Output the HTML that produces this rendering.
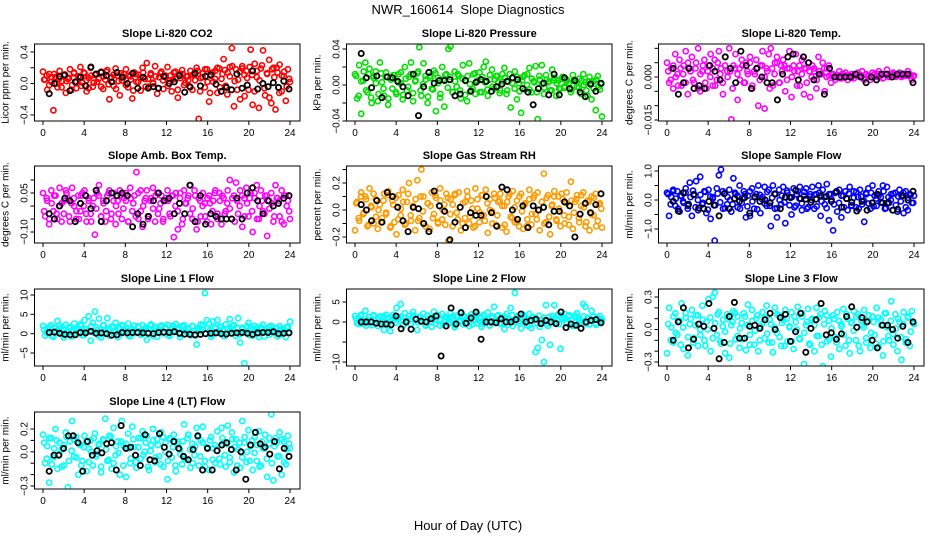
<!DOCTYPE html>
<html><head><meta charset="utf-8"><title>NWR_160614 Slope Diagnostics</title>
<style>
html,body{margin:0;padding:0;background:#fff;}
svg{display:block;font-family:"Liberation Sans",sans-serif;}
</style></head>
<body>
<svg id="chart" width="936" height="540" viewBox="0 0 936 540" xmlns="http://www.w3.org/2000/svg">
<rect x="0" y="0" width="936" height="540" fill="#fff"/>
<text x="468" y="14" text-anchor="middle" font-size="13">NWR_160614&#160; Slope Diagnostics</text>
<text x="468" y="530" text-anchor="middle" font-size="13">Hour of Day (UTC)</text>
</svg>
<script>
const xTicks=[0,4,8,12,16,20,24];
const co2Colored=[0.15,0.05,-0.08,0.12,0.02,-0.34,0.08,-0.05,0.16,0.03,0.10,-0.12,0.06,0.18,-0.02,0.14,-0.06,0.09,0.21,0.01,0.13,-0.10,0.07,0.20,-0.04,0.11,0.02,-0.53,0.15,-0.07,0.05,0.17,-0.20,0.08,-0.03,0.19,0.10,-0.15,0.04,0.12,0.18,-0.05,0.09,-0.19,0.14,0.02,0.11,-0.09,0.20,0.06,0.26,-0.04,0.13,0.01,0.22,-0.13,0.08,0.15,-0.07,0.10,0.21,0.03,-0.10,0.14,0.06,-0.18,0.12,0.17,-0.02,0.09,0.04,0.16,-0.08,0.11,0.20,-0.45,0.07,0.13,-0.05,0.18,-0.23,0.10,0.02,0.16,-0.12,0.19,0.06,0.31,-0.03,0.14,0.21,0.45,-0.29,0.18,0.05,-0.20,0.22,0.11,0.16,-0.08,0.43,-0.27,0.25,0.08,-0.31,0.19,0.42,-0.15,0.12,0.30,-0.25,0.20,-0.33,0.14,0.24,-0.10,0.09,-0.22,0.18,0.02];
const co2Core=[0.05,0.10,-0.02,0.08,0.12,0.00,0.06,-0.05,0.11,0.03,0.07,-0.08,0.13,0.02,0.09,-0.03,0.14,0.04,-0.06,0.10,0.01,0.12,0.06,-0.04,0.09,0.15,-0.01,0.07,0.11,-0.07,0.03,0.13,0.08,-0.02,0.10,0.05,-0.09,0.12,0.02,0.07,0.14,-0.04,0.06,0.11,0.00,0.09,-0.06,0.13,0.04,0.08,-0.03,0.10,0.05,0.15,-0.08,0.07,0.12,0.01,0.09,-0.05,0.11,0.04,0.16,-0.10,0.08,0.18,0.02,-0.12,0.14,0.06,0.20,-0.05,0.12,0.17,-0.14,0.09,0.22,0.03,-0.08,0.15,0.19,-0.16,0.07,0.21,0.11,-0.10,0.16,0.04,0.23,-0.06,0.13,-0.18,0.18,0.08,0.20,-0.12,0.10,0.15,-0.04,0.06];
const co2Black=[-0.13,0.00,0.09,0.11,-0.09,0.02,0.08,-0.03,0.21,0.12,0.14,0.10,0.02,0.14,0.08,0.00,0.13,-0.06,0.08,-0.06,-0.04,-0.06,0.09,0.00,0.02,0.10,-0.11,-0.04,0.13,-0.03,0.09,0.11,-0.01,-0.10,-0.05,-0.08,0.12,-0.06,-0.02,0.16,-0.07,0.00,-0.04,0.01,-0.05,0.03,-0.07];
const presColored=[0.012,-0.015,0.022,-0.032,0.005,0.025,-0.008,0.018,-0.020,0.010,0.015,-0.018,0.025,0.003,-0.012,0.014,-0.022,0.008,-0.004,0.011,-0.010,0.012,0.002,-0.016,0.020,-0.006,0.009,0.025,-0.018,0.004,0.013,0.042,-0.012,0.024,0.006,-0.020,0.010,-0.004,0.016,-0.029,0.008,-0.014,0.020,-0.024,0.012,0.040,0.043,-0.008,0.015,-0.002,0.010,-0.015,0.022,0.005,-0.018,0.024,-0.006,0.012,-0.010,0.004,0.014,-0.008,0.020,0.026,-0.012,0.006,0.017,-0.004,0.010,0.003,-0.006,0.012,0.019,-0.010,0.004,-0.025,0.008,0.015,-0.016,0.002,-0.031,0.009,-0.005,0.012,0.019,-0.008,0.004,0.021,-0.038,0.006,0.022,-0.010,0.011,0.003,-0.006,0.017,0.008,-0.012,0.005,-0.004,0.009,-0.003,0.006,0.002,-0.008,0.011,0.004,-0.002,0.007,-0.010,0.012,0.003,-0.012,0.009,-0.016,0.004,-0.028,0.010,-0.005,-0.035];
const presCore=[0.010,-0.012,0.004,0.015,-0.006,0.012,-0.014,0.008,0.002,-0.010,0.013,-0.004,0.009,-0.015,0.006,0.011,-0.008,0.003,0.014,-0.011,0.007,-0.002,0.012,-0.009,0.005,0.015,-0.006,0.001,0.010,-0.013,0.008,-0.005,0.013,0.002,-0.010,0.006,0.011,-0.003,0.009,-0.008,0.004,0.012,-0.006,0.007,-0.011,0.010,0.001,-0.004,0.013,0.005,-0.008,0.009,0.003,-0.005,0.011,-0.002,0.006,0.010,-0.009,0.004,0.008,-0.006,0.012,0.002,-0.004,0.009,-0.007,0.005,0.011,0.000,-0.005,0.007,0.003,-0.008,0.010,0.001,-0.003,0.006,0.004,-0.006,0.005,0.002,-0.004,0.007,-0.002,0.004,0.001,-0.005,0.006,0.003,-0.003,0.005,0.000,-0.006,0.004,0.002,-0.004,0.006,-0.002,0.001];
const presBlack=[0.035,0.008,-0.003,0.010,-0.014,0.009,0.008,0.004,-0.002,-0.012,0.012,-0.034,-0.002,0.014,0.002,0.005,0.005,0.006,-0.012,-0.010,0.005,-0.007,0.003,0.006,0.004,-0.007,-0.002,0.001,0.004,0.008,0.006,-0.004,-0.008,-0.022,-0.004,0.002,-0.011,0.012,-0.011,0.008,-0.004,0.005,-0.008,-0.013,0.001,-0.007,0.002];
const tempColored=[0.005,-0.002,0.003,-0.004,0.008,0.001,0.006,-0.003,0.004,0.009,-0.006,0.003,0.007,-0.002,0.005,0.010,-0.005,0.002,0.006,-0.004,0.004,0.008,-0.003,0.006,-0.001,0.009,0.003,-0.006,0.007,0.002,0.010,-0.0148,0.004,0.008,-0.008,0.003,0.006,-0.002,0.005,0.001,0.007,-0.004,0.002,0.006,-0.010,0.004,0.009,-0.011,0.003,0.008,0.010,-0.003,0.005,0.007,-0.002,0.004,0.006,-0.005,0.003,0.009,-0.007,0.004,0.008,0.002,-0.003,0.006,-0.006,0.003,0.005,-0.007,0.004,0.002,-0.004,0.007,0.001,0.005,-0.005,0.003,0.004,-0.002,0.001,-0.001,0.0005,0.002,-0.0005,0.001,0.0015,-0.001,0.0005,0.001,-0.0005,0.001,0.0015,0.0,0.002,-0.001,0.001,0.0005,-0.001,0.0015,0.001,0.0,0.002,0.0005,-0.0005,0.001,0.0025,0.0,0.001,0.0015,0.0005,0.001,0.0015,0.0,0.001,0.0005,0.002,0.001,-0.001,0.0005];
const tempCore=[0.002,-0.001,0.004,0.000,-0.003,0.003,0.001,-0.002,0.005,0.002,-0.001,0.003,-0.004,0.001,0.004,-0.002,0.002,0.000,0.003,-0.003,0.005,0.001,-0.002,0.004,0.000,0.002,-0.004,0.003,0.001,-0.001,0.004,-0.002,0.002,0.005,-0.003,0.001,0.003,-0.001,0.004,0.000,0.002,-0.004,0.003,0.001,0.005,-0.002,0.002,0.004,-0.001,0.003,0.000,0.002,-0.003,0.004,0.001,0.003,-0.002,0.002,0.000,0.003,-0.001,0.002,0.001,0.003,0.000,0.0005,0.0008,0.0,0.0006,-0.0004,0.0009,0.0003,0.0,0.0007,-0.0003,0.0005,0.001,0.0002,0.0006,-0.0002,0.0008,0.0004,0.0,0.0007,0.0003,0.001,0.0005,-0.0003,0.0008,0.0002,0.0006,0.0009,0.0001,0.0005,0.0007,0.0003,0.001,0.0004,0.0006,0.0002];
const tempBlack=[0.003,-0.006,-0.002,0.003,-0.004,-0.003,-0.004,0.004,0.002,-0.001,0.007,0.003,-0.002,0.009,0.004,-0.004,0.003,0.000,-0.002,-0.002,-0.008,0.001,0.007,0.008,-0.001,0.007,0.005,-0.001,0.001,-0.006,0.003,0.000,0.000,0.000,0.000,0.001,0.000,-0.002,0.000,-0.001,0.001,0.001,0.000,0.001,0.001,0.001,-0.002];
const ambColored=[0.05,-0.04,0.02,-0.07,0.06,-0.02,0.04,-0.05,0.07,0.01,-0.03,0.06,0.03,-0.06,0.07,0.00,-0.05,0.04,-0.02,0.05,0.06,-0.06,0.03,-0.03,0.00,-0.11,0.05,0.08,-0.04,0.02,-0.06,0.04,0.06,-0.03,0.05,-0.07,0.02,0.06,-0.05,0.03,0.05,-0.06,0.07,-0.02,0.04,0.13,-0.05,0.06,-0.08,0.02,0.06,-0.04,0.03,0.07,-0.06,0.05,-0.01,0.04,-0.05,0.02,0.06,-0.03,0.04,-0.12,0.05,-0.09,0.03,-0.07,0.06,0.01,0.04,0.08,-0.05,0.06,-0.09,0.03,-0.04,0.05,0.01,-0.06,0.04,-0.07,0.02,0.06,-0.03,0.05,-0.07,0.03,-0.02,0.06,0.10,-0.05,0.04,0.09,-0.03,0.06,-0.08,0.03,0.07,-0.04,0.05,-0.10,0.03,0.08,-0.05,0.06,-0.02,0.04,-0.115,0.02,0.05,-0.06,0.08,0.03,-0.04,0.06,-0.07,0.04,0.02,-0.05];
const ambCore=[-0.02,0.03,-0.05,0.01,0.04,-0.03,0.00,-0.06,0.02,0.05,-0.04,0.01,0.03,-0.02,-0.05,0.04,0.00,-0.03,0.02,-0.06,0.03,-0.01,0.04,-0.04,0.01,-0.02,0.05,-0.05,0.02,0.00,-0.03,0.04,-0.01,0.02,-0.06,0.03,0.01,-0.04,0.05,-0.02,0.00,0.03,-0.05,0.02,-0.01,0.04,-0.03,0.01,-0.06,0.03,0.02,-0.04,0.04,0.00,-0.02,0.05,-0.05,0.01,0.03,-0.03,-0.01,0.04,-0.06,0.02,0.00,-0.04,0.03,0.01,-0.02,0.05,-0.05,0.02,0.04,-0.03,0.01,-0.01,0.03,-0.06,0.02,0.00,0.04,-0.04,0.01,0.03,-0.02,0.05,-0.05,0.00,0.02,-0.03,0.04,-0.01,0.01,-0.04,0.03,0.02,-0.06,0.04,0.00,-0.02];
const ambBlack=[-0.03,-0.05,0.00,0.03,0.02,-0.06,0.01,0.04,-0.01,0.06,-0.06,0.02,0.05,0.04,0.05,0.04,-0.08,-0.03,-0.07,-0.04,0.02,0.05,0.02,0.03,-0.03,0.01,-0.03,0.08,-0.06,0.04,-0.07,-0.03,-0.04,-0.05,-0.05,-0.05,0.03,-0.05,0.05,0.07,0.02,-0.03,0.02,0.00,0.01,0.03,0.04];
const rhColored=[-0.15,0.06,-0.08,0.13,-0.03,0.10,-0.12,0.16,0.02,-0.10,0.08,-0.14,0.04,-0.06,0.12,-0.02,0.14,-0.13,0.07,-0.09,-0.18,0.11,-0.04,0.15,-0.11,0.06,0.20,-0.08,0.03,-0.15,0.22,-0.06,0.30,0.10,-0.12,0.05,-0.14,0.13,-0.03,0.09,-0.10,0.16,-0.07,0.04,0.12,-0.23,0.08,-0.12,0.11,-0.02,0.13,-0.15,0.05,-0.06,0.14,-0.10,0.07,-0.13,0.16,0.01,-0.09,0.11,-0.04,0.15,-0.17,0.08,-0.01,0.12,-0.11,0.06,0.12,-0.13,0.03,-0.16,0.10,-0.05,0.14,-0.09,0.07,-0.12,0.12,-0.14,0.05,-0.07,0.15,-0.11,0.09,-0.03,0.13,-0.15,0.06,0.27,-0.09,0.11,-0.18,0.04,0.14,-0.07,0.10,-0.12,0.08,-0.10,0.13,-0.05,0.21,-0.14,0.06,0.11,-0.09,0.03,0.13,-0.12,0.07,-0.15,0.10,-0.04,0.12,-0.08,0.05,-0.13];
const rhCore=[0.05,-0.06,0.10,-0.02,0.08,-0.11,0.03,0.12,-0.05,0.00,-0.09,0.07,-0.03,0.11,-0.12,0.04,0.09,-0.07,0.01,0.06,-0.10,0.12,-0.04,0.02,0.08,-0.08,0.10,-0.01,-0.12,0.05,0.03,-0.06,0.11,-0.09,0.07,0.00,-0.11,0.09,-0.03,0.04,0.12,-0.07,0.02,-0.10,0.06,0.10,-0.05,0.01,-0.12,0.08,-0.02,0.11,-0.08,0.05,0.00,-0.10,0.09,-0.04,0.07,0.03,-0.11,0.06,0.12,-0.06,0.02,-0.09,0.10,-0.01,0.04,-0.12,0.08,-0.03,0.11,-0.07,0.00,0.06,-0.10,0.09,-0.05,0.03,0.10,-0.08,0.01,0.12,-0.04,0.05,-0.11,0.07,-0.02,0.08,-0.06,0.11,0.02,-0.09,0.06,-0.03,0.09,-0.12,0.04,0.01];
const rhBlack=[0.04,0.00,-0.08,0.07,-0.09,0.13,0.10,0.02,-0.08,-0.16,0.02,0.01,-0.10,-0.16,0.14,0.03,-0.01,-0.22,-0.09,0.02,-0.13,-0.02,-0.04,-0.04,0.10,-0.02,-0.12,0.17,0.15,0.00,-0.07,0.03,-0.13,0.03,0.00,0.02,-0.11,-0.01,-0.01,0.06,0.03,-0.20,-0.03,0.05,-0.02,0.04,0.12];
const sampleColored=[0.25,-0.55,0.10,0.35,-0.20,0.30,-0.40,0.15,-0.10,0.40,-0.30,0.60,-0.55,0.20,0.65,-0.35,0.80,-0.15,0.30,-0.45,0.35,-0.65,0.10,-1.40,0.40,0.85,1.05,-0.30,0.25,-0.15,0.35,-0.40,0.75,0.20,-0.25,0.50,-0.10,0.30,-0.60,0.15,-0.55,0.40,-0.30,0.20,0.50,-0.45,0.10,0.45,-0.20,0.35,-0.90,0.50,-0.30,-0.60,0.35,-0.15,0.45,-0.80,0.25,0.10,-0.50,0.40,-0.20,0.30,0.45,-0.35,0.15,0.40,-0.25,0.20,0.45,-0.30,0.20,0.50,-0.55,0.35,-0.15,0.55,-0.70,0.20,-1.05,0.25,-0.40,0.35,-0.60,0.15,0.30,-0.35,0.45,-0.20,0.30,-0.25,0.10,0.35,-0.15,-0.75,0.25,0.40,-0.30,0.50,0.15,-0.20,0.30,0.10,0.50,-0.30,0.45,-0.10,0.20,-0.35,0.25,-0.40,0.35,0.15,-0.45,0.30,-0.35,0.20,-0.10,0.15];
const sampleCore=[0.20,-0.15,0.30,0.05,-0.30,0.15,-0.05,0.25,-0.20,0.10,0.32,-0.25,0.00,0.18,-0.10,0.28,-0.33,0.12,0.05,-0.18,0.22,-0.08,0.30,-0.28,0.10,0.00,-0.15,0.25,0.15,-0.30,0.05,0.20,-0.22,0.30,-0.05,0.12,-0.32,0.18,0.02,-0.12,0.28,-0.20,0.08,0.22,-0.28,0.00,0.15,-0.08,0.32,-0.18,0.10,-0.25,0.20,0.05,-0.12,0.28,-0.30,0.12,0.00,0.18,-0.22,0.25,-0.05,0.10,-0.28,0.20,0.02,-0.15,0.30,-0.10,0.15,-0.25,0.05,0.22,-0.18,0.08,0.28,-0.30,0.12,-0.02,0.20,-0.12,0.25,-0.22,0.05,0.15,-0.08,0.30,-0.28,0.10,0.00,0.22,-0.18,0.12,-0.05,0.25,-0.25,0.08,0.18,-0.10];
const sampleBlack=[-0.05,-0.38,0.25,-0.15,0.18,-0.28,-0.30,-0.05,-0.18,-0.55,0.22,-0.30,0.05,-0.05,0.08,-0.45,0.10,-0.05,0.00,-0.10,0.20,-0.30,0.10,0.08,0.33,0.05,0.03,-0.08,0.03,0.15,0.12,-0.05,0.28,-0.25,0.05,-0.08,-0.38,-0.05,-0.35,-0.10,0.20,-0.10,-0.10,-0.35,-0.32,0.15,0.00,0.30];
const line1Colored=[2.0,-0.5,1.2,0.3,2.2,-0.8,1.5,3.3,0.5,1.8,-1.0,2.3,0.8,1.5,-0.6,2.6,1.0,0.2,2.4,-0.4,3.5,1.2,4.5,-1.8,2.8,5.7,0.9,3.9,-1.0,2.1,1.0,4.0,-0.5,1.8,0.6,2.8,-0.9,1.4,2.2,0.3,1.5,2.6,-0.7,1.0,2.0,0.4,1.7,-0.3,2.2,1.1,-1.6,1.3,2.4,0.6,1.8,-0.8,1.1,2.1,0.3,1.6,2.3,-0.6,1.4,0.8,2.5,1.0,-0.9,1.9,2.2,0.5,1.2,-0.4,2.0,0.7,-2.8,1.5,2.4,0.9,10.5,3.5,2.6,-0.8,3.2,1.4,3.5,0.6,1.8,-0.5,2.4,1.1,3.8,1.2,2.2,-0.6,4.0,-2.3,1.5,-7.7,0.8,2.8,1.7,-0.5,2.0,1.0,-0.9,1.6,2.3,0.4,1.3,-0.3,2.0,0.8,1.5,-0.7,1.9,0.5,1.2,-0.9,1.7,3.1];
const line1Core=[1.0,0.2,1.8,-0.5,1.4,0.6,2.1,-0.2,1.1,0.4,1.7,-0.7,0.9,1.5,0.1,2.0,-0.4,1.2,0.7,1.9,0.3,1.6,-0.6,1.0,2.2,0.5,1.3,-0.3,1.8,0.8,1.4,0.0,2.0,0.6,-0.5,1.5,1.1,0.2,1.9,-0.2,0.9,1.6,0.4,2.1,-0.6,1.2,0.7,1.8,0.1,1.3,-0.4,1.0,2.0,0.5,1.5,-0.1,1.7,0.8,1.2,0.3,1.9,-0.5,1.1,0.6,2.2,0.0,1.4,0.9,-0.3,1.6,0.4,1.8,1.0,-0.6,1.3,0.7,2.0,0.2,1.5,-0.2,1.1,0.5,1.9,-0.4,1.2,0.8,1.6,0.1,1.4,-0.7,0.6,1.8,1.0,0.3,1.5,-0.3,1.2,0.9,1.7,0.4];
const line1Black=[0.3,0.4,0.1,-0.2,-0.3,-0.3,0.3,0.2,0.6,0.1,0.2,0.0,-0.4,-0.3,0.3,0.2,0.3,0.3,0.2,0.1,0.0,0.3,0.4,0.3,0.5,0.1,-0.1,-0.2,-0.3,-0.2,0.0,0.1,0.2,0.0,-0.1,0.1,0.2,0.3,0.1,-0.2,0.2,0.3,0.3,0.5,0.0,0.1,0.2];
const line2Colored=[1.5,-0.3,0.8,1.8,-0.5,2.8,0.4,1.2,-0.8,1.5,0.6,-1.0,1.4,0.2,-2.0,1.8,-0.6,-2.3,1.1,0.5,3.5,1.2,4.5,-0.8,2.2,0.4,1.5,-0.5,2.5,0.9,-2.0,1.3,0.2,2.1,-0.7,1.6,0.8,-1.2,2.6,0.5,1.4,-0.9,2.0,0.3,1.1,-0.4,2.3,0.7,-1.3,1.6,0.2,2.5,-0.6,1.3,0.8,-1.0,1.9,0.4,2.2,-0.3,1.0,-1.2,1.8,0.5,2.4,-0.8,1.4,3.8,0.3,1.7,-0.5,1.2,-1.8,2.0,0.6,3.5,-1.0,7.3,1.4,0.2,-1.6,1.8,0.7,-0.9,2.0,-1.5,1.2,-7.5,-6.5,-1.2,-4.5,-10.0,4.2,-1.0,-5.7,1.5,4.2,-0.5,1.9,-6.7,0.8,2.0,-0.4,1.3,0.5,-1.0,1.6,2.2,0.3,-1.5,4.5,3.8,1.0,-0.6,2.8,1.4,-0.3,0.9,1.5,0.6];
const line2Core=[0.8,-0.5,1.5,0.2,-0.9,1.2,0.5,1.7,-0.3,0.9,0.1,1.4,-0.7,1.0,0.4,1.8,-0.2,0.7,1.3,-0.8,1.1,0.3,-0.5,1.6,0.6,-0.1,1.2,0.9,-0.9,1.5,0.2,1.0,-0.4,1.7,0.5,-0.6,1.3,0.8,0.0,1.4,-0.8,1.1,0.4,1.6,-0.3,0.9,1.2,-0.6,0.6,1.8,0.1,-0.5,1.4,0.7,-0.9,1.0,0.3,1.5,-0.2,0.8,1.3,-0.7,0.5,1.7,0.0,1.1,-0.4,0.9,1.4,0.2,-0.8,1.2,0.6,-0.3,1.6,0.4,1.0,-0.6,1.3,0.7,0.2,1.5,-0.5,0.9,1.1,-0.2,1.7,0.5,-0.9,1.2,0.8,0.0,1.4,-0.4,1.0,0.6,1.3,-0.7,0.9,0.3];
const line2Black=[0.0,0.0,0.0,-0.3,-0.5,-0.5,-0.7,1.5,-1.7,0.0,-1.8,0.7,0.2,0.0,0.8,1.5,-8.5,-1.0,3.5,-0.5,2.3,-0.3,1.0,2.5,-4.3,0.0,0.0,-0.2,0.8,0.0,0.0,0.6,2.0,0.0,0.4,0.7,-0.4,0.4,0.0,-0.4,2.5,-1.4,-0.5,-0.8,-1.6,0.0,0.4,0.6,-0.2];
const line3Colored=[-0.22,0.20,0.02,-0.12,0.15,-0.05,0.08,0.24,-0.18,0.11,-0.24,0.05,0.18,-0.08,0.13,-0.15,0.00,0.22,-0.10,0.07,0.28,-0.20,0.30,0.34,-0.05,0.16,-0.13,0.09,-0.22,0.14,-0.26,0.04,0.17,-0.09,0.12,-0.17,0.06,0.15,-0.19,0.23,-0.05,0.18,-0.14,0.10,-0.20,0.03,0.16,-0.08,0.22,-0.12,0.05,-0.21,0.20,-0.03,0.13,-0.15,0.09,0.18,-0.11,0.02,0.16,-0.18,0.07,0.21,-0.09,0.12,-0.32,0.04,0.19,-0.14,0.10,-0.20,0.20,-0.06,0.14,-0.34,0.17,-0.11,0.08,-0.25,0.13,-0.07,0.16,-0.18,0.05,0.19,-0.15,0.10,-0.22,0.07,0.17,-0.10,0.14,-0.20,0.04,0.18,-0.12,0.08,-0.17,0.12,-0.05,0.20,-0.16,0.09,-0.24,0.15,0.02,-0.10,0.26,-0.04,0.14,-0.20,0.07,-0.28,0.16,-0.09,0.11,-0.15,0.17,0.05];
const line3Core=[0.05,-0.10,0.12,-0.03,0.08,-0.14,0.02,0.15,-0.07,0.10,-0.12,0.04,0.13,-0.05,0.09,-0.15,0.00,0.11,-0.08,0.06,0.14,-0.11,0.03,-0.02,0.10,-0.13,0.07,0.15,-0.06,0.01,-0.09,0.12,0.04,-0.14,0.08,-0.01,0.13,-0.10,0.05,0.11,-0.04,0.09,-0.12,0.02,0.14,-0.07,0.06,-0.15,0.10,0.03,-0.11,0.12,0.00,-0.08,0.15,-0.03,0.07,-0.13,0.09,0.04,-0.06,0.11,-0.14,0.05,0.13,-0.09,0.01,0.10,-0.12,0.08,0.03,-0.05,0.14,-0.10,0.06,-0.01,0.12,-0.15,0.09,0.02,-0.08,0.13,-0.03,0.07,-0.13,0.11,0.04,-0.11,0.15,-0.06,0.08,-0.14,0.01,0.10,-0.07,0.05,-0.12,0.12,-0.02,0.06];
const line3Black=[-0.10,0.07,0.20,-0.17,-0.09,0.05,0.03,0.24,0.01,-0.27,-0.12,0.12,0.25,-0.08,-0.08,0.03,0.04,0.01,0.09,0.15,0.00,0.11,0.14,-0.11,-0.02,0.15,-0.21,0.01,0.09,0.24,-0.05,-0.03,-0.09,-0.04,0.12,0.21,0.02,0.11,0.07,-0.10,-0.17,0.04,0.04,0.00,-0.08,0.03,-0.12,0.07];
const line4Colored=[0.15,-0.10,0.05,-0.27,0.12,-0.05,0.20,-0.15,0.08,0.02,-0.12,0.17,-0.31,0.09,0.27,-0.04,0.13,-0.20,0.06,-0.08,0.14,-0.17,0.03,0.10,-0.12,0.16,-0.02,0.07,-0.18,0.11,0.29,-0.08,0.14,-0.15,0.21,-0.03,0.09,-0.20,0.27,0.05,-0.22,0.16,-0.10,0.22,0.04,-0.14,0.12,-0.06,0.18,0.00,0.14,-0.16,0.06,0.20,-0.09,0.11,-0.04,0.17,-0.13,0.08,-0.24,0.12,-0.05,0.15,-0.17,0.09,0.02,-0.11,0.24,-0.06,0.15,-0.14,0.07,-0.03,0.21,-0.12,0.10,0.22,-0.08,0.04,-0.16,0.13,0.03,-0.10,0.18,-0.06,0.21,0.08,-0.13,0.23,-0.05,0.17,-0.18,0.11,0.02,-0.14,0.27,0.08,-0.09,0.19,0.05,-0.16,0.13,-0.08,0.18,-0.12,0.03,0.15,-0.22,0.07,0.33,-0.25,0.12,-0.04,0.17,-0.20,0.09,-0.11,0.14,0.03];
const line4Core=[0.08,-0.06,0.12,-0.11,0.03,0.10,-0.02,-0.13,0.06,0.13,-0.08,0.01,0.11,-0.05,0.07,-0.12,0.04,0.09,-0.09,0.00,0.12,-0.04,0.06,-0.13,0.10,0.02,-0.07,0.13,-0.10,0.05,-0.01,0.09,-0.12,0.07,0.03,-0.06,0.11,-0.09,0.04,0.12,-0.03,0.08,-0.13,0.01,0.10,-0.05,0.06,-0.11,0.13,0.00,-0.08,0.11,0.04,-0.12,0.07,-0.02,0.09,-0.06,0.12,0.02,-0.10,0.05,0.13,-0.04,0.08,-0.13,0.03,0.10,-0.07,0.06,0.01,-0.11,0.12,-0.03,0.07,-0.09,0.11,0.04,-0.12,0.08,-0.05,0.13,0.00,-0.08,0.10,-0.01,0.06,-0.13,0.09,0.03,-0.06,0.12,-0.10,0.05,0.08,-0.04,0.11,-0.09,0.02,0.07];
const line4Black=[-0.17,-0.03,-0.03,0.03,0.14,0.14,0.08,-0.17,0.09,-0.03,0.01,-0.01,0.07,0.08,-0.16,0.23,0.03,0.04,-0.03,-0.12,0.15,-0.07,-0.08,0.16,0.04,-0.02,0.09,0.03,-0.04,-0.07,0.02,0.14,-0.16,0.03,-0.16,0.01,0.06,0.08,0.02,-0.16,0.00,-0.24,0.06,0.17,0.07,0.04,-0.02,0.09,-0.15,0.03,-0.04];

const co2Ticks=[-0.4,-0.2,0,0.2,0.4], co2Labels=["\u22120.4","","0.0","","0.4"];
const presTicks=[-0.04,-0.02,0,0.02,0.04], presLabels=["\u22120.04","","0.00","","0.04"];
const tempTicks=[-0.015,-0.01,-0.005,0,0.005,0.01], tempLabels=["\u22120.015","","","0.000","",""];
const ambTicks=[-0.1,-0.05,0,0.05,0.1], ambLabels=["\u22120.10","","","0.05",""];
const rhTicks=[-0.2,-0.1,0,0.1,0.2,0.3], rhLabels=["\u22120.2","","0.0","","0.2",""];
const sampleTicks=[-1,-0.5,0,0.5,1], sampleLabels=["\u22121.0","","0.0","","1.0"];
const line1Ticks=[-5,0,5,10], line1Labels=["\u22125","0","5","10"];
const line2Ticks=[-10,-5,0,5], line2Labels=["\u221210","","0","5"];
const line3Ticks=[-0.3,-0.2,-0.1,0,0.1,0.2,0.3], line3Labels=["\u22120.3","","","0.0","","","0.3"];
const line4Ticks=[-0.3,-0.2,-0.1,0,0.1,0.2], line4Labels=["\u22120.3","","","0.0","","0.2"];

const NS="http://www.w3.org/2000/svg";
const svg=document.getElementById('chart');
const colX0=[43,355,667], rowTop=[44,166,289,412], boxH=77, hrPx=247/24;
const panels=[
 {key:'co2',title:'Slope Li-820 CO2',ylab:'Licor ppm per min.',col:0,row:0,color:'#ff0000',c:co2Colored,k:co2Core,b:co2Black,t:co2Ticks,l:co2Labels,map:[0.4,8,-0.4,71]},
 {key:'pressure',title:'Slope Li-820 Pressure',ylab:'kPa per min.',col:1,row:0,color:'#00e000',c:presColored,k:presCore,b:presBlack,t:presTicks,l:presLabels,map:[0.04,5,-0.04,77]},
 {key:'li820-temp',title:'Slope Li-820 Temp.',ylab:'degrees C per min.',col:2,row:0,color:'#ff00ff',c:tempColored,k:tempCore,b:tempBlack,t:tempTicks,l:tempLabels,map:[0,33,-0.015,76]},
 {key:'amb-box-temp',title:'Slope Amb. Box Temp.',ylab:'degrees C per min.',col:0,row:1,color:'#ff00ff',c:ambColored,k:ambCore,b:ambBlack,t:ambTicks,l:ambLabels,map:[0.05,27,-0.1,66]},
 {key:'gas-stream-rh',title:'Slope Gas Stream RH',ylab:'percent per min.',col:1,row:1,color:'#ff9a00',c:rhColored,k:rhCore,b:rhBlack,t:rhTicks,l:rhLabels,map:[0.2,17,-0.2,71]},
 {key:'sample-flow',title:'Slope Sample Flow',ylab:'ml/min per min.',col:2,row:1,color:'#0000ff',c:sampleColored,k:sampleCore,b:sampleBlack,t:sampleTicks,l:sampleLabels,map:[1,5,-1,63]},
 {key:'line1-flow',title:'Slope Line 1 Flow',ylab:'ml/min per min.',col:0,row:2,color:'#00ffff',c:line1Colored,k:line1Core,b:line1Black,t:line1Ticks,l:line1Labels,map:[10,6,-5,64]},
 {key:'line2-flow',title:'Slope Line 2 Flow',ylab:'ml/min per min.',col:1,row:2,color:'#00ffff',c:line2Colored,k:line2Core,b:line2Black,t:line2Ticks,l:line2Labels,map:[5,13,-10,73]},
 {key:'line3-flow',title:'Slope Line 3 Flow',ylab:'ml/min per min.',col:2,row:2,color:'#00ffff',c:line3Colored,k:line3Core,b:line3Black,t:line3Ticks,l:line3Labels,map:[0.3,8,-0.3,73]},
 {key:'line4-flow',title:'Slope Line 4 (LT) Flow',ylab:'ml/min per min.',col:0,row:3,color:'#00ffff',c:line4Colored,k:line4Core,b:line4Black,t:line4Ticks,l:line4Labels,map:[0.2,17,-0.3,74]}
];
function mk(tag,attrs,parent){const e=document.createElementNS(NS,tag);for(const k in attrs)e.setAttribute(k,attrs[k]);(parent||svg).appendChild(e);return e;}

panels.forEach(p=>{
  const x0=colX0[p.col], top=rowTop[p.row], bot=top+boxH;
  const left=x0-8.5, right=x0+257;
  const xs=h=>x0+h*hrPx;
  const [va,pa,vb,pb]=p.map;
  const ys=v=>top+pa+(v-va)*(pb-pa)/(vb-va);
  const g=mk('g',{});
  
  
  const t=mk('text',{x:(left+right)/2,y:top-7,'text-anchor':'middle','font-size':'11','font-weight':'bold'},g);
  
  
  t.textContent=p.title;
  const yl=mk('text',{x:0,y:0,'text-anchor':'middle','font-size':'10',transform:`translate(${left-26},${top+boxH/2}) rotate(-90)`},g);
  
  
  yl.textContent=p.ylab;
  const cid='clip-'+p.key;
  const cp=mk('clipPath',{id:cid},g);
  mk('rect',{x:left,y:top,width:right-left,height:boxH},cp);
  const pts=mk('g',{'clip-path':`url(#${cid})`,fill:'none'},g);
  
  
  const nk=p.k.length;
  p.k.forEach((v,i)=>{
    const h=0.12+i*23.8/(nk-1);
    const c=mk('circle',{cx:xs(h).toFixed(1),cy:ys(v).toFixed(1),r:2.6,stroke:p.color,'stroke-width':1.6},pts);
    
    
  });
  const nc=p.c.length;
  p.c.forEach((v,i)=>{
    const h=i*24/(nc-1);
    const c=mk('circle',{cx:xs(h).toFixed(1),cy:ys(v).toFixed(1),r:2.6,stroke:p.color,'stroke-width':1.6},pts);
    
    
  });
  const nb=p.b.length;
  p.b.forEach((v,i)=>{
    const h=0.6+i*23.3/(nb-1);
    const c=mk('circle',{cx:xs(h).toFixed(1),cy:ys(v).toFixed(1),r:2.6,stroke:'#000','stroke-width':1.8},pts);
    
    
  });
  const box=mk('rect',{x:left,y:top,width:right-left,height:boxH,fill:'none',stroke:'#000','stroke-width':1},g);
  
  
  const xa=mk('g',{},g);
  
  
  xTicks.forEach(h=>{
    mk('line',{x1:xs(h),x2:xs(h),y1:bot,y2:bot+4,stroke:'#000'},xa);
    const tl=mk('text',{x:xs(h),y:bot+15,'text-anchor':'middle','font-size':'10'},xa);
    
    
    tl.textContent=h;
  });
  const ya=mk('g',{},g);
  
  
  p.t.forEach((v,i)=>{
    const y=ys(v);
    if(y<top-0.5||y>bot+0.5) return;
    mk('line',{x1:left-4,x2:left,y1:y,y2:y,stroke:'#000'},ya);
    if(p.l[i]){
      const tl=mk('text',{x:0,y:0,'text-anchor':'middle','font-size':'10',transform:`translate(${left-7},${y}) rotate(-90)`},ya);
      
      
      tl.textContent=p.l[i];
    }
  });
});
</script>
</body></html>
